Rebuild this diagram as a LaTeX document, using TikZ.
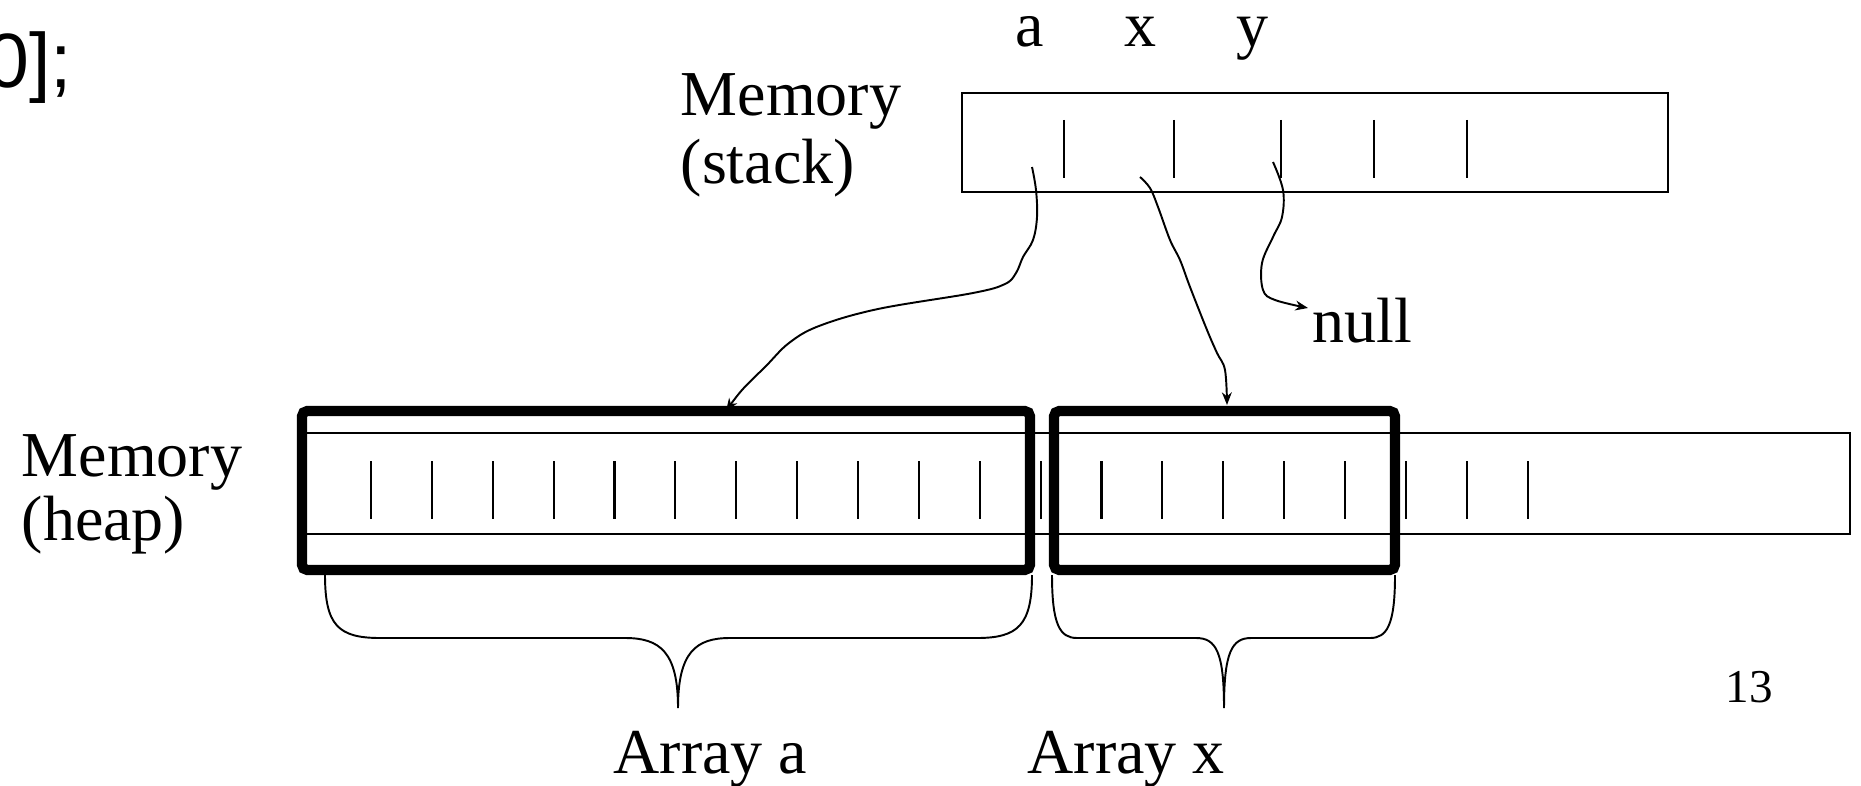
\documentclass[tikz,border=0pt]{standalone}
\usepackage{fontspec}
\setmainfont{Liberation Serif}
\newfontfamily\slidefont{Liberation Sans}
\usetikzlibrary{arrows.meta,positioning}
\tikzset{mem label/.style={inner sep=0pt,anchor=base west,font=\fontsize{18.2}{20}\selectfont},
         var label/.style={inner sep=0pt,anchor=base,font=\fontsize{18.2}{20}\selectfont},
         thin box/.style={draw,line width=0.75pt},
         cell line/.style={line width=0.6pt},
         array box/.style={draw,line width=2.9pt,rounded corners=1.5pt},
         ptr/.style={line width=0.55pt,-{Stealth[length=3.6pt,width=2.8pt]}},
         brace line/.style={line width=0.55pt},
}

\begin{document}
\begin{tikzpicture}[x=0.01cm,y=-0.01cm]
\useasboundingbox (0,0) rectangle (1861,785);
% \draw[help lines,step=100] (0,0) grid (1861,785);

\node[mem label,font=\slidefont\fontsize{21.9}{24}\selectfont] (code) at (-14,88) {0];};

% stack
\node[mem label] (stack1) at (680,116) {Memory};
\node[mem label] (stack2) at (680,183) {(stack)};
\node[var label] (va) at (1030,47) {a};
\node[var label] (vx) at (1140,47) {x};
\node[var label] (vy) at (1252,47) {y};
\draw[thin box] (962,93) rectangle (1668,192);
\foreach \x in {1064,1174,1281,1374,1467}
    \draw[cell line] (\x,120) -- (\x,178);

% heap
\node[mem label] (heap1) at (21,476) {Memory};
\node[mem label] (heap2) at (21,540) {(heap)};
\draw[thin box] (302,433) rectangle (1850,534);
\foreach \i in {0,...,19}
    \draw[cell line] (371+60.87*\i,461) -- ++(0,58);

% pointers
\coordinate (a cell) at (1032,167);
\coordinate (x cell) at (1140,177);
\coordinate (y cell) at (1273,162);
\coordinate (a head) at (726,411);
\coordinate (x head) at (1227,405);
\coordinate (y head) at (1308,308);
\node[mem label] (null) at (1312,342) {null};

\draw[ptr] plot[smooth,tension=0.6] coordinates {(a cell) (1036,190) (1037,217) (1033,240)
    (1023,257) (1016,273) (1005,284) (973,293) (878,309) (819,326) (789,343) (766,366)
    (742,390) (a head)};
\draw[ptr] plot[smooth,tension=0.6] coordinates {(x cell) (1150,188) (1158,207) (1170,240)
    (1180,260) (1190,287) (1207,330) (1217,353) (1225,370) (x head)};
\draw[ptr] plot[smooth,tension=0.6] coordinates {(y cell) (1283,190) (1282,217) (1273,237)
    (1262,263) (1263,290) (1275,300) (y head)};

% arrays
\draw[array box] (302,411) rectangle (1030,570);
\draw[array box] (1054,411) rectangle (1395,570);

\draw[brace line] (325,575) .. controls (325,625) and (338,638) .. (380,638) -- (625,638)
    .. controls (660,638) and (678,652) .. (678,708)
    .. controls (678,652) and (696,638) .. (730,638) -- (977,638)
    .. controls (1018,638) and (1032,625) .. (1032,575);
\draw[brace line] (1052,575) .. controls (1052,625) and (1060,638) .. (1077,638) -- (1196,638)
    .. controls (1216,638) and (1224,652) .. (1224,708)
    .. controls (1224,652) and (1232,638) .. (1251,638) -- (1370,638)
    .. controls (1387,638) and (1395,625) .. (1395,575);

\node[mem label] (arr a) at (613,773) {Array a};
\node[mem label] (arr x) at (1027,773) {Array x};
\node[mem label,font=\fontsize{13.4}{15}\selectfont] (page) at (1725,702) {13};
\end{tikzpicture}
\end{document}
